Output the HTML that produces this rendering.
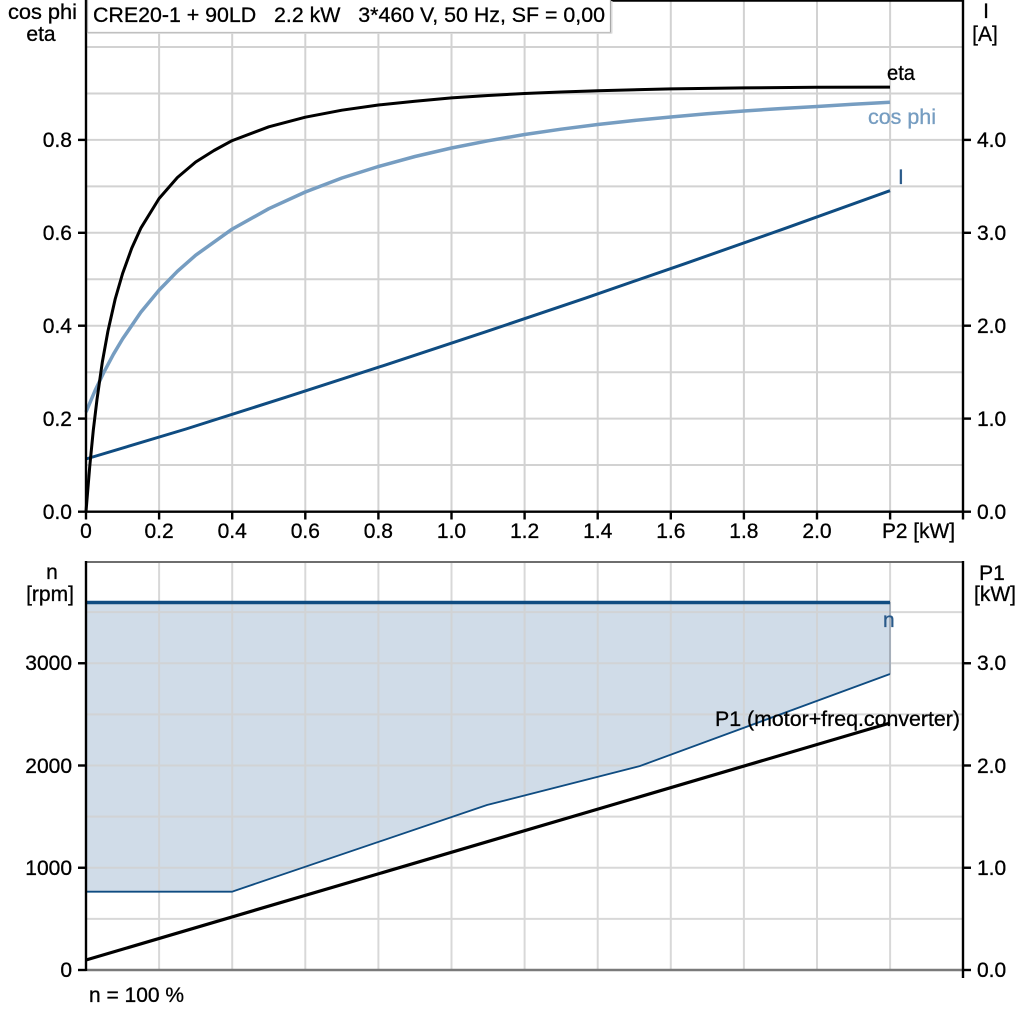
<!DOCTYPE html>
<html><head><meta charset="utf-8"><style>
html,body{margin:0;padding:0;background:#fff;}
svg{display:block;}
text{font-family:"Liberation Sans",Arial,sans-serif;font-size:21px;fill:#000;stroke:#000;stroke-width:0.3px;}
</style></head><body>
<svg width="1024" height="1024" viewBox="0 0 1024 1024" xmlns="http://www.w3.org/2000/svg">
<rect width="1024" height="1024" fill="#fff"/>
<!-- ===== TOP CHART ===== -->
<g stroke="#d2d2d2" stroke-width="2">
<line x1="159.1" y1="0" x2="159.1" y2="511"/><line x1="232.2" y1="0" x2="232.2" y2="511"/>
<line x1="305.3" y1="0" x2="305.3" y2="511"/><line x1="378.4" y1="0" x2="378.4" y2="511"/>
<line x1="451.5" y1="0" x2="451.5" y2="511"/><line x1="524.6" y1="0" x2="524.6" y2="511"/>
<line x1="597.7" y1="0" x2="597.7" y2="511"/><line x1="670.8" y1="0" x2="670.8" y2="511"/>
<line x1="743.9" y1="0" x2="743.9" y2="511"/><line x1="817" y1="0" x2="817" y2="511"/>
<line x1="890.1" y1="0" x2="890.1" y2="511"/>
<line x1="86" y1="465" x2="963" y2="465"/><line x1="86" y1="418.6" x2="963" y2="418.6"/>
<line x1="86" y1="372.2" x2="963" y2="372.2"/><line x1="86" y1="325.7" x2="963" y2="325.7"/>
<line x1="86" y1="279.3" x2="963" y2="279.3"/><line x1="86" y1="232.8" x2="963" y2="232.8"/>
<line x1="86" y1="186.4" x2="963" y2="186.4"/><line x1="86" y1="139.9" x2="963" y2="139.9"/>
<line x1="86" y1="93.5" x2="963" y2="93.5"/><line x1="86" y1="47" x2="963" y2="47"/>
</g>
<!-- curves -->
<polyline fill="none" stroke="#0f4c81" stroke-width="3" points="86,459 186,429 286,397.2 386,364.8 486,331.7 586,297.9 686,263.3 786,228.1 890,190.7"/>
<polyline fill="none" stroke="#769dc1" stroke-width="3.5" stroke-linejoin="round" points="86,412.1 95.1,390.5 104.3,371.4 113.4,354.3 122.6,338.9 140.8,312.3 159.1,290.1 177.4,271.3 195.7,255.2 232.2,229.1 268.8,208.7 305.3,192 341.9,178 378.4,166.5 415,156.5 451.5,148 488,140.8 524.6,134.5 561,129.2 597.7,124.5 634,120.5 670.8,117 707,113.8 743.9,111 780,108.6 817,106.5 853,104.3 890,102.3"/>
<polyline fill="none" stroke="#000" stroke-width="3" stroke-linejoin="round" points="86,511.5 89.7,466.9 93.3,430.2 97,399.4 102.4,361.6 107.9,331.3 115.2,299 122.6,273.5 131.7,248.3 140.8,228.2 159.1,198.5 177.4,177.5 195.7,162 214,150.5 232.2,140.6 268.8,126.8 305.3,117.2 341.9,110.2 378.4,105 415,101.2 451.5,97.9 488,95.5 524.6,93.5 561,92 597.7,90.7 670.8,88.9 743.9,87.9 817,87.3 890,87.1"/>
<!-- axes -->
<line x1="86" y1="0.8" x2="963" y2="0.8" stroke="#000" stroke-width="2"/>
<line x1="86" y1="0" x2="86" y2="512.5" stroke="#000" stroke-width="2.4"/>
<line x1="963" y1="0" x2="963" y2="519.5" stroke="#000" stroke-width="2.4"/>
<line x1="78" y1="511.7" x2="963" y2="511.7" stroke="#000" stroke-width="2.4"/>
<g stroke="#000" stroke-width="2.4">
<line x1="78" y1="418.6" x2="86" y2="418.6"/><line x1="78" y1="325.7" x2="86" y2="325.7"/>
<line x1="78" y1="232.8" x2="86" y2="232.8"/><line x1="78" y1="139.9" x2="86" y2="139.9"/>
<line x1="963" y1="511.7" x2="971" y2="511.7"/><line x1="963" y1="418.6" x2="971" y2="418.6"/>
<line x1="963" y1="325.7" x2="971" y2="325.7"/><line x1="963" y1="232.8" x2="971" y2="232.8"/>
<line x1="963" y1="139.9" x2="971" y2="139.9"/>
<line x1="86" y1="511" x2="86" y2="519.5"/><line x1="159.1" y1="511" x2="159.1" y2="519.5"/>
<line x1="232.2" y1="511" x2="232.2" y2="519.5"/><line x1="305.3" y1="511" x2="305.3" y2="519.5"/>
<line x1="378.4" y1="511" x2="378.4" y2="519.5"/><line x1="451.5" y1="511" x2="451.5" y2="519.5"/>
<line x1="524.6" y1="511" x2="524.6" y2="519.5"/><line x1="597.7" y1="511" x2="597.7" y2="519.5"/>
<line x1="670.8" y1="511" x2="670.8" y2="519.5"/><line x1="743.9" y1="511" x2="743.9" y2="519.5"/>
<line x1="817" y1="511" x2="817" y2="519.5"/><line x1="890.1" y1="511" x2="890.1" y2="519.5"/>
</g>
<!-- title box -->
<rect x="87.5" y="-1" width="523" height="33.5" fill="#fff" stroke="#a8a8a8" stroke-width="1.2"/>
<line x1="88" y1="33.2" x2="611.5" y2="33.2" stroke="#d8d8d8" stroke-width="1.4"/>
<line x1="611.8" y1="1" x2="611.8" y2="33.5" stroke="#d8d8d8" stroke-width="1.4"/>
<text x="93" y="22" textLength="512" lengthAdjust="spacingAndGlyphs" xml:space="preserve">CRE20-1 + 90LD   2.2 kW   3*460 V, 50 Hz, SF = 0,00</text>
<!-- axis titles -->
<text x="42.5" y="19" text-anchor="middle" textLength="69" lengthAdjust="spacingAndGlyphs">cos phi</text>
<text x="41" y="41" text-anchor="middle">eta</text>
<text x="986" y="18" text-anchor="middle">I</text>
<text x="985" y="41" text-anchor="middle">[A]</text>
<!-- tick labels -->
<g text-anchor="end">
<text x="72" y="519">0.0</text><text x="72" y="426">0.2</text><text x="72" y="333">0.4</text>
<text x="72" y="240">0.6</text><text x="72" y="147">0.8</text>
</g>
<g>
<text x="977" y="519">0.0</text><text x="977" y="426">1.0</text><text x="977" y="333">2.0</text>
<text x="977" y="240">3.0</text><text x="977" y="147">4.0</text>
</g>
<g text-anchor="middle">
<text x="86" y="538">0</text><text x="159.1" y="538">0.2</text><text x="232.2" y="538">0.4</text>
<text x="305.3" y="538">0.6</text><text x="378.4" y="538">0.8</text><text x="451.5" y="538">1.0</text>
<text x="524.6" y="538">1.2</text><text x="597.7" y="538">1.4</text><text x="670.8" y="538">1.6</text>
<text x="743.9" y="538">1.8</text><text x="817" y="538">2.0</text>
</g>
<text x="882" y="538" textLength="73" lengthAdjust="spacingAndGlyphs">P2 [kW]</text>
<!-- curve labels -->
<text x="887" y="80" textLength="28" lengthAdjust="spacingAndGlyphs">eta</text>
<text x="868" y="124" style="fill:#769dc1;stroke:#769dc1" textLength="68" lengthAdjust="spacingAndGlyphs">cos phi</text>
<text x="898" y="184" style="fill:#2a5a8a;stroke:#2a5a8a">I</text>

<!-- ===== BOTTOM CHART ===== -->
<polygon fill="#d0dce8" points="86,602.5 890,602.5 890,674 640,766 487,805 232,891.7 86,891.7"/>
<g stroke="#d2d2d2" stroke-width="2" opacity="0.85">
<line x1="159.1" y1="562" x2="159.1" y2="970"/><line x1="232.2" y1="562" x2="232.2" y2="970"/>
<line x1="305.3" y1="562" x2="305.3" y2="970"/><line x1="378.4" y1="562" x2="378.4" y2="970"/>
<line x1="451.5" y1="562" x2="451.5" y2="970"/><line x1="524.6" y1="562" x2="524.6" y2="970"/>
<line x1="597.7" y1="562" x2="597.7" y2="970"/><line x1="670.8" y1="562" x2="670.8" y2="970"/>
<line x1="743.9" y1="562" x2="743.9" y2="970"/><line x1="817" y1="562" x2="817" y2="970"/>
<line x1="890.1" y1="562" x2="890.1" y2="970"/>
<line x1="86" y1="918.9" x2="963" y2="918.9"/><line x1="86" y1="867.75" x2="963" y2="867.75"/>
<line x1="86" y1="816.6" x2="963" y2="816.6"/><line x1="86" y1="765.5" x2="963" y2="765.5"/>
<line x1="86" y1="714.4" x2="963" y2="714.4"/><line x1="86" y1="663.25" x2="963" y2="663.25"/>
<line x1="86" y1="612.1" x2="963" y2="612.1"/>
</g>
<line x1="890" y1="602" x2="890" y2="674" stroke="#a6afba" stroke-width="2"/>
<polyline fill="none" stroke="#0f4c81" stroke-width="1.8" points="86,891.7 232,891.7 487,805 640,766 890,674"/>
<line x1="86" y1="602.5" x2="890" y2="602.5" stroke="#0f4c81" stroke-width="3.4"/>
<line x1="86" y1="960" x2="890" y2="723" stroke="#000" stroke-width="3.2"/>
<!-- axes -->
<line x1="86" y1="562" x2="963" y2="562" stroke="#6e6e6e" stroke-width="2"/>
<line x1="86" y1="970" x2="963" y2="970" stroke="#7a7a7a" stroke-width="2.4"/>
<line x1="86" y1="561" x2="86" y2="971" stroke="#000" stroke-width="2.4"/>
<line x1="963" y1="561" x2="963" y2="978" stroke="#000" stroke-width="2.4"/>
<g stroke="#000" stroke-width="2.4">
<line x1="78" y1="970" x2="86" y2="970"/><line x1="78" y1="867.75" x2="86" y2="867.75"/>
<line x1="78" y1="765.5" x2="86" y2="765.5"/><line x1="78" y1="663.25" x2="86" y2="663.25"/>
<line x1="963" y1="970" x2="971" y2="970"/><line x1="963" y1="867.75" x2="971" y2="867.75"/>
<line x1="963" y1="765.5" x2="971" y2="765.5"/><line x1="963" y1="663.25" x2="971" y2="663.25"/>
</g>
<g text-anchor="end">
<text x="72" y="977">0</text><text x="72" y="875">1000</text>
<text x="72" y="773">2000</text><text x="72" y="670">3000</text>
</g>
<g>
<text x="977" y="977">0.0</text><text x="977" y="875">1.0</text>
<text x="977" y="773">2.0</text><text x="977" y="670">3.0</text>
</g>
<text x="52" y="579" text-anchor="middle">n</text>
<text x="50" y="601" text-anchor="middle">[rpm]</text>
<text x="992" y="580" text-anchor="middle">P1</text>
<text x="995" y="601" text-anchor="middle">[kW]</text>
<text x="883" y="627" style="fill:#2a5a8a;stroke:#2a5a8a">n</text>
<text x="715" y="726" textLength="245" lengthAdjust="spacingAndGlyphs">P1 (motor+freq.converter)</text>
<text x="89" y="1002" textLength="95" lengthAdjust="spacingAndGlyphs">n = 100 %</text>
</svg>
</body></html>
